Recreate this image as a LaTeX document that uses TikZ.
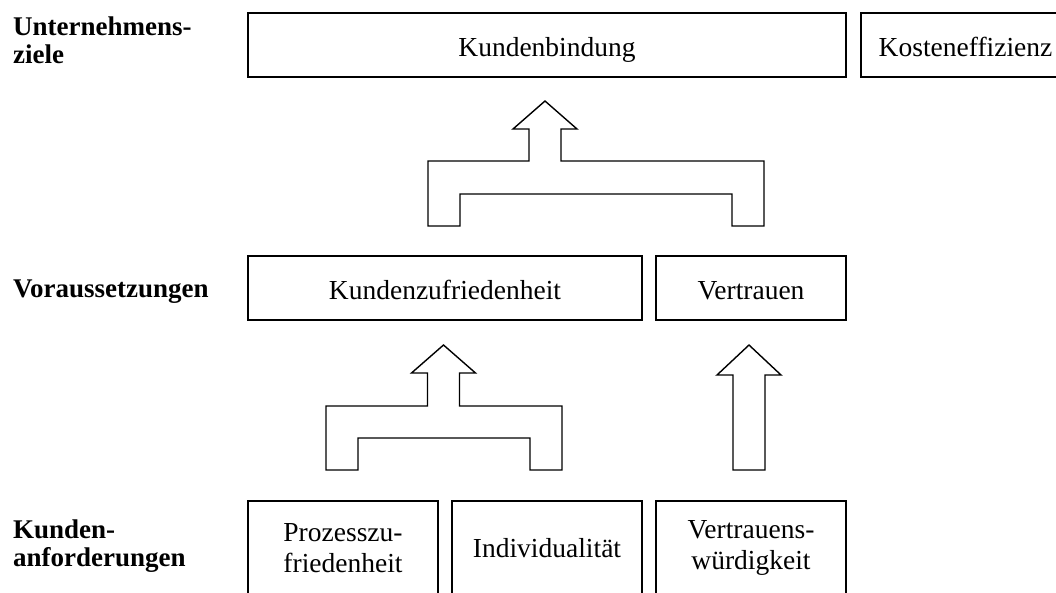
\documentclass[tikz,border=0pt]{standalone}
\usepackage{fontspec}
\setmainfont{Liberation Serif}
\begin{document}
\begin{tikzpicture}[x=1pt,y=-1pt,
  box/.style={draw=black,line width=1.6pt,rectangle,inner sep=0pt,align=center,
    font=\fontsize{27.5}{31}\selectfont},
  oneline/.style={text height=23pt,text depth=1pt},
  lbl/.style={inner sep=0pt,anchor=west,align=left,
    font=\fontsize{27}{28}\selectfont\bfseries},
  blockarrow/.style={draw=black,line width=1.4pt,fill=white,line join=miter}]
\useasboundingbox (0,0) rectangle (1056,592);
\clip (0,0) rectangle (1056,592);
% left labels
\node[lbl] (lz) at (13,40) {Unternehmens-\\ziele};
\node[lbl] (lv) at (13,292) {Voraussetzungen};
\node[lbl] (lk) at (13,546) {Kunden-\\anforderungen};
% top row
\node[box,oneline,minimum width=598pt,minimum height=64pt] (kb) at (547,45) {Kundenbindung};
\node[box,oneline,minimum width=209pt,minimum height=64pt] (ke) at (965.5,45) {Kosteneffizienz};
% middle row
\node[box,oneline,minimum width=394pt,minimum height=64pt] (kz) at (445,288) {Kundenzufriedenheit};
\node[box,oneline,minimum width=190pt,minimum height=64pt] (vt) at (751,288) {Vertrauen};
% bottom row
\node[box,minimum width=190pt,minimum height=94pt] (pz) at (343,548) {Prozesszu-\\friedenheit};
\node[box,minimum width=190pt,minimum height=94pt] (iv) at (547,548) {Individualit\"at};
\node[box,minimum width=190pt,minimum height=94pt] (vw) at (751,548) {Vertrauens-\\w\"urdigkeit};
% upper fork arrow
\draw[blockarrow] (545,101) -- (577,129) -- (561,129) -- (561,161) -- (764,161) -- (764,226)
  -- (732,226) -- (732,194) -- (460,194) -- (460,226) -- (428,226) -- (428,161)
  -- (529,161) -- (529,129) -- (513,129) -- cycle;
% lower fork arrow
\draw[blockarrow] (443.5,345) -- (475.5,373) -- (459.5,373) -- (459.5,406) -- (562,406) -- (562,470)
  -- (530,470) -- (530,438) -- (358,438) -- (358,470) -- (326,470) -- (326,406)
  -- (427.5,406) -- (427.5,373) -- (411.5,373) -- cycle;
% single arrow
\draw[blockarrow] (749,345) -- (781,375) -- (765,375) -- (765,470) -- (733,470)
  -- (733,375) -- (717,375) -- cycle;
\end{tikzpicture}
\end{document}
